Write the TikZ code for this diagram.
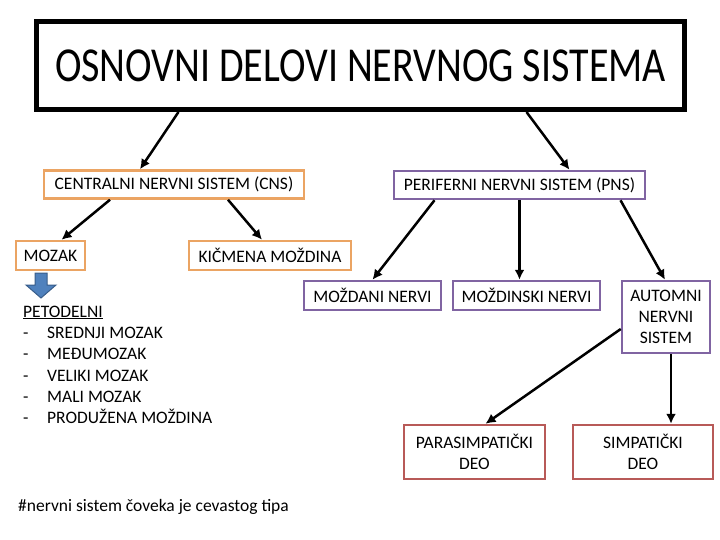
\documentclass[tikz,border=0pt]{standalone}
\usepackage{fontspec}
\setmainfont{Carlito}
\usetikzlibrary{arrows.meta}
\definecolor{cnsorange}{HTML}{EBA463}
\definecolor{pnspurple}{HTML}{8064A2}
\definecolor{deored}{HTML}{B85A58}
\definecolor{arrowblue}{HTML}{4F81BD}
\definecolor{arrowedge}{HTML}{385D8A}
\begin{document}
\begin{tikzpicture}
    [
    x=1pt,y=-1pt,
    box/.style={draw,line width=2.5pt,inner sep=0pt,align=center,font=\fontsize{17.5}{21}\selectfont},
    cnsbox/.style={box,draw=cnsorange},
    pnsbox/.style={box,draw=pnspurple},
    deobox/.style={box,draw=deored},
    item/.style={anchor=base west,inner sep=0pt,font=\fontsize{17.5}{21}\selectfont},
    arr/.style={-{Latex[length=10pt,width=10pt]},line width=2.5pt}
    ]
    \useasboundingbox (0,0) rectangle (720,540);
    \node (title) at (360.5,65.5) [draw,line width=5pt,inner sep=0pt,minimum width=648pt,minimum height=88pt,font=\fontsize{40}{44}\selectfont] {\scalebox{1}[1.22]{OSNOVNI DELOVI NERVNOG SISTEMA}};
    \node (cns) at (174,184.5) [cnsbox,minimum width=260pt,minimum height=28pt] {CENTRALNI NERVNI SISTEM (CNS)};
    \node (pns) at (519.5,185) [pnsbox,minimum width=251pt,minimum height=28pt] {PERIFERNI NERVNI SISTEM (PNS)};
    \node (mozak) at (50.5,255.5) [cnsbox,minimum width=69pt,minimum height=29pt] {MOZAK};
    \node (kicmena) at (270,255.5) [cnsbox,minimum width=162pt,minimum height=29pt] {KIČMENA MOŽDINA};
    \node (mozdani) at (372.5,295.5) [pnsbox,minimum width=137pt,minimum height=29pt] {MOŽDANI NERVI};
    \node (mozdinski) at (526.5,295.5) [pnsbox,minimum width=147pt,minimum height=29pt] {MOŽDINSKI NERVI};
    \node (autonomni) at (666,317) [pnsbox,minimum width=88pt,minimum height=72pt] {AUTOMNI\\NERVNI\\SISTEM};
    \node (para) at (474.5,452) [deobox,minimum width=141pt,minimum height=54pt] {PARASIMPATIČKI\\DEO};
    \node (simp) at (643,452) [deobox,minimum width=140pt,minimum height=54pt] {SIMPATIČKI\\DEO};
    % list of brain parts
    \node (petodelni) at (23,317) [item] {\underline{PETODELNI}};
    \node (d1) at (23,338) [item] {-}; \node (l1) at (47,338) [item] {SREDNJI MOZAK};
    \node (d2) at (23,359.5) [item] {-}; \node (l2) at (47,359.5) [item] {MEĐUMOZAK};
    \node (d3) at (23,381) [item] {-}; \node (l3) at (47,381) [item] {VELIKI MOZAK};
    \node (d4) at (23,402) [item] {-}; \node (l4) at (47,402) [item] {MALI MOZAK};
    \node (d5) at (23,423) [item] {-}; \node (l5) at (47,423) [item] {PRODUŽENA MOŽDINA};
    \node (note) at (18,511) [item] {\#nervni sistem čoveka je cevastog tipa};
    % block arrow below MOZAK
    \draw [fill=arrowblue,draw=arrowedge,line width=1pt] (35,273) -- (47,273) -- (47,285) -- (56,285) -- (41,298) -- (26,285) -- (35,285) -- cycle;
    \draw [arr] ([xshift=-182pt]title.south) to ([xshift=-34pt]cns.north);
    \draw [arr] ([xshift=166pt]title.south) to ([xshift=50pt]pns.north);
    \draw [arr] ([xshift=-64pt]cns.south) to ([xshift=11pt]mozak.north);
    \draw [arr] ([xshift=54pt]cns.south) to ([xshift=-8pt]kicmena.north);
    \draw [arr] ([xshift=-85pt]pns.south) to ([xshift=0pt]mozdani.north);
    \draw [arr] ([xshift=0pt]pns.south) to ([xshift=-7pt]mozdinski.north);
    \draw [arr] ([xshift=101pt]pns.south) to ([xshift=-1pt]autonomni.north);
    \draw [arr] ([yshift=-12pt]autonomni.west) to ([xshift=11pt]para.north);
    \draw [arr] ([xshift=5pt]autonomni.south) to ([xshift=28pt]simp.north);
  \end{tikzpicture}
\end{document}
